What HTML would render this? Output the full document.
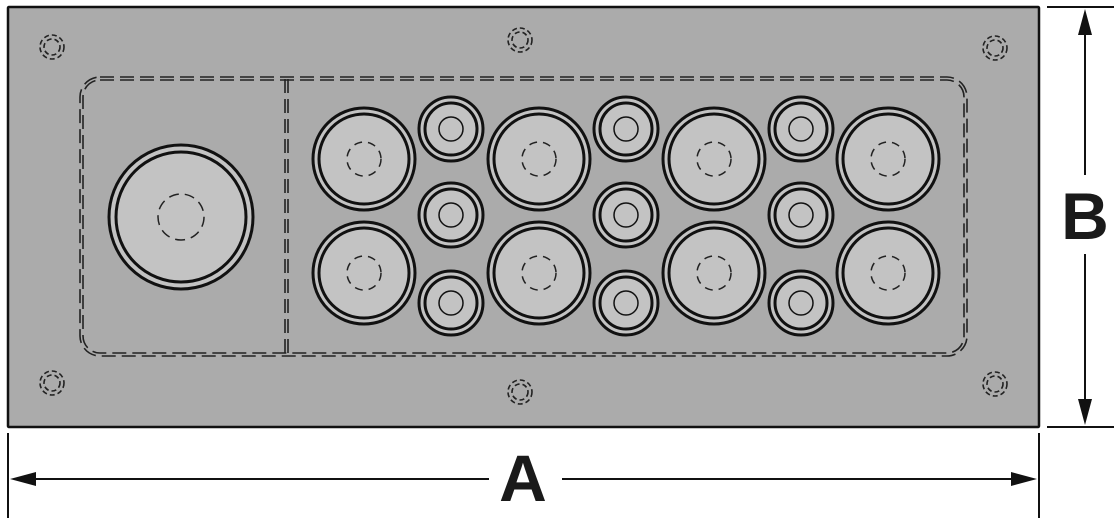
<!DOCTYPE html>
<html><head><meta charset="utf-8"><style>html,body{margin:0;padding:0;background:#fff;width:1119px;height:522px;overflow:hidden}</style></head>
<body>
<svg width="1119" height="522" viewBox="0 0 1119 522" xmlns="http://www.w3.org/2000/svg">
<rect x="8" y="7" width="1031" height="420" fill="#ababab" stroke="#111" stroke-width="2.5" rx="1"/>
<g fill="none" stroke="#222" stroke-width="1.6" stroke-dasharray="14 6">
<rect x="80" y="77" width="887" height="279" rx="20"/>
<rect x="83" y="80" width="881" height="273" rx="17"/>
<line x1="285" y1="79" x2="285" y2="355"/>
<line x1="288" y1="79" x2="288" y2="355"/>
</g>
<g fill="none" stroke="#222" stroke-width="1.6" stroke-dasharray="5 3">
<circle cx="52" cy="47" r="12"/><circle cx="52" cy="47" r="8"/>
<circle cx="520" cy="40" r="12"/><circle cx="520" cy="40" r="8"/>
<circle cx="995" cy="48" r="12"/><circle cx="995" cy="48" r="8"/>
<circle cx="52" cy="383" r="12"/><circle cx="52" cy="383" r="8"/>
<circle cx="520" cy="392" r="12"/><circle cx="520" cy="392" r="8"/>
<circle cx="995" cy="384" r="12"/><circle cx="995" cy="384" r="8"/>
</g>
<g stroke="#111" stroke-width="3" fill="#c3c3c3">
<circle cx="181" cy="217" r="72"/><circle cx="181" cy="217" r="65"/>
</g>
<circle cx="181" cy="217" r="23" fill="none" stroke="#222" stroke-width="1.5" stroke-dasharray="10 6"/>
<g stroke="#111" stroke-width="3" fill="#c3c3c3">
<circle cx="364" cy="159" r="51"/><circle cx="364" cy="159" r="45"/>
<circle cx="539" cy="159" r="51"/><circle cx="539" cy="159" r="45"/>
<circle cx="714" cy="159" r="51"/><circle cx="714" cy="159" r="45"/>
<circle cx="888" cy="159" r="51"/><circle cx="888" cy="159" r="45"/>
<circle cx="364" cy="273" r="51"/><circle cx="364" cy="273" r="45"/>
<circle cx="539" cy="273" r="51"/><circle cx="539" cy="273" r="45"/>
<circle cx="714" cy="273" r="51"/><circle cx="714" cy="273" r="45"/>
<circle cx="888" cy="273" r="51"/><circle cx="888" cy="273" r="45"/>
</g>
<g fill="none" stroke="#222" stroke-width="1.5" stroke-dasharray="8 6">
<circle cx="364" cy="159" r="17"/><circle cx="539" cy="159" r="17"/><circle cx="714" cy="159" r="17"/><circle cx="888" cy="159" r="17"/>
<circle cx="364" cy="273" r="17"/><circle cx="539" cy="273" r="17"/><circle cx="714" cy="273" r="17"/><circle cx="888" cy="273" r="17"/>
</g>
<g stroke="#111" stroke-width="3" fill="#c3c3c3">
<circle cx="451" cy="129" r="32"/><circle cx="451" cy="129" r="26"/>
<circle cx="451" cy="215" r="32"/><circle cx="451" cy="215" r="26"/>
<circle cx="451" cy="303" r="32"/><circle cx="451" cy="303" r="26"/>
<circle cx="626" cy="129" r="32"/><circle cx="626" cy="129" r="26"/>
<circle cx="626" cy="215" r="32"/><circle cx="626" cy="215" r="26"/>
<circle cx="626" cy="303" r="32"/><circle cx="626" cy="303" r="26"/>
<circle cx="801" cy="129" r="32"/><circle cx="801" cy="129" r="26"/>
<circle cx="801" cy="215" r="32"/><circle cx="801" cy="215" r="26"/>
<circle cx="801" cy="303" r="32"/><circle cx="801" cy="303" r="26"/>
</g>
<g fill="none" stroke="#111" stroke-width="1.5">
<circle cx="451" cy="129" r="12"/><circle cx="451" cy="215" r="12"/><circle cx="451" cy="303" r="12"/>
<circle cx="626" cy="129" r="12"/><circle cx="626" cy="215" r="12"/><circle cx="626" cy="303" r="12"/>
<circle cx="801" cy="129" r="12"/><circle cx="801" cy="215" r="12"/><circle cx="801" cy="303" r="12"/>
</g>
<g stroke="#111" stroke-width="2">
<line x1="1047" y1="7" x2="1114" y2="7"/>
<line x1="1047" y1="427" x2="1114" y2="427"/>
<line x1="1085" y1="20" x2="1085" y2="175"/>
<line x1="1085" y1="254" x2="1085" y2="414"/>
<line x1="8" y1="433" x2="8" y2="518"/>
<line x1="1039" y1="433" x2="1039" y2="518"/>
<line x1="20" y1="479" x2="489" y2="479"/>
<line x1="562" y1="479" x2="1026" y2="479"/>
</g>
<g fill="#111">
<polygon points="1085,9 1078,35 1092,35"/>
<polygon points="1085,425 1078,399 1092,399"/>
<polygon points="10,479 36,472 36,486"/>
<polygon points="1037,479 1011,472 1011,486"/>
</g>
<text x="523" y="501" font-family="Liberation Sans, sans-serif" font-weight="bold" font-size="66" text-anchor="middle" fill="#1a1a1a">A</text>
<text x="1085" y="239" font-family="Liberation Sans, sans-serif" font-weight="bold" font-size="66" text-anchor="middle" fill="#1a1a1a">B</text>
</svg>
</body></html>
